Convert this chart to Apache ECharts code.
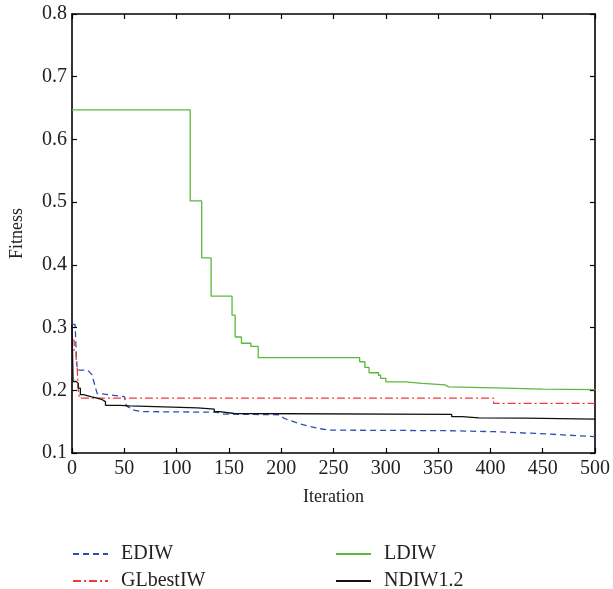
<!DOCTYPE html>
<html>
<head>
<meta charset="utf-8">
<script src="https://cdn.jsdelivr.net/npm/echarts@6/dist/echarts.min.js"></script>
<style>
html,body{margin:0;padding:0;background:#fff;}
#chart{width:613px;height:589px;}
</style>
</head>
<body>
<div id="chart"></div>
<script>
var xTicks = {min: 0, max: 500, interval: 50};
var yTicks = {min: 0.1, max: 0.8, interval: 0.1};
var seriesNames = ['EDIW', 'GLbestIW', 'LDIW', 'NDIW1.2'];

var ediw = [[0,0.305],[3,0.305],[4,0.26],[5,0.232],[15,0.232],[19,0.225],[24,0.195],[40,0.192],[50,0.19],[52,0.175],[60,0.168],[68,0.166],[138,0.165],[145,0.162],[198,0.161],[203,0.155],[208,0.152],[217,0.147],[226,0.143],[236,0.139],[246,0.1365],[312,0.136],[360,0.1355],[404,0.134],[446,0.131],[474,0.1285],[500,0.126]];

var glbestiw = [[0,0.28],[2,0.26],[4,0.245],[5,0.235],[6,0.2],[7,0.1875],[403,0.179],[500,0.179]];

var ldiw = [[0,0.647],[113,0.502],[124,0.411],[133,0.350],[153,0.320],[156,0.285],[162,0.275],[171,0.270],[178,0.252],[275,0.2455],[280,0.2365],[284,0.228],[293,0.224],[295,0.219],[300,0.2135],[319,0.211],[335,0.2085],[357,0.2055],[360,0.204],[404,0.202],[450,0.201],[500,0.1998]];

var ndiw = [[0,0.305],[1,0.214],[4,0.211],[6,0.2035],[8,0.193],[11,0.19],[18,0.1875],[24,0.185],[29,0.182],[32,0.176],[46,0.175],[55,0.172],[120,0.170],[136,0.166],[141,0.163],[155,0.1615],[363,0.158],[373,0.156],[389,0.1555],[433,0.154],[500,0.154]];

var FONT = 'Liberation Serif';
var chart = echarts.init(document.getElementById('chart'), null, {renderer: 'canvas'});

function axisCommon(extra) {
  var base = {
    type: 'value',
    axisLine: {show: true, onZero: false, lineStyle: {color: '#000', width: 1.6}},
    axisTick: {show: true, inside: true, length: 5, lineStyle: {color: '#000', width: 1.2}},
    splitLine: {show: false},
    axisLabel: {show: false}
  };
  for (var k in extra) base[k] = extra[k];
  return base;
}

function legendItem(name, left, top) {
  return {
    data: [name],
    orient: 'horizontal', left: left, top: top,
    itemWidth: 35, itemHeight: 14, itemGap: 0, padding: 0,
    itemStyle: {opacity: 0},
    textStyle: {fontFamily: FONT, fontSize: 20, color: '#222', padding: [0, 0, 0, 8]}
  };
}

var option = {
  backgroundColor: '#fff',
  animation: false,
  grid: {left: 72, right: 16, top: 14, bottom: 136, containLabel: false},
  xAxis: [
    axisCommon({min: xTicks.min, max: xTicks.max, interval: xTicks.interval, position: 'bottom',
      name: 'Iteration', nameLocation: 'middle', nameGap: 35,
      nameTextStyle: {fontFamily: FONT, fontSize: 18, color: '#222'},
      axisLabel: {show: true, margin: 6, fontFamily: FONT, fontSize: 20, color: '#222'}}),
    axisCommon({min: xTicks.min, max: xTicks.max, interval: xTicks.interval, position: 'top'})
  ],
  yAxis: [
    axisCommon({min: yTicks.min, max: yTicks.max, interval: yTicks.interval, position: 'left',
      name: 'Fitness', nameLocation: 'middle', nameGap: 46,
      nameTextStyle: {fontFamily: FONT, fontSize: 18, color: '#222'},
      axisLabel: {show: true, margin: 5, fontFamily: FONT, fontSize: 20, color: '#222',
        formatter: function (v) { return v.toFixed(1); }}}),
    axisCommon({min: yTicks.min, max: yTicks.max, interval: yTicks.interval, position: 'right'})
  ],
  legend: [
    legendItem(seriesNames[0], 72, 544),
    legendItem(seriesNames[1], 72, 571),
    legendItem(seriesNames[2], 335, 544),
    legendItem(seriesNames[3], 335, 571)
  ],
  series: [
    {name: seriesNames[0], type: 'line', data: ediw, symbol: 'none', step: false,
      itemStyle: {color: '#2b4eb5'},
      lineStyle: {color: '#2b4eb5', width: 1.3, type: [6, 4]}},
    {name: seriesNames[1], type: 'line', data: glbestiw, symbol: 'none', step: 'end',
      itemStyle: {color: '#ee3a3a'},
      lineStyle: {color: '#ee3a3a', width: 1.3, type: [8, 3, 2, 3]}},
    {name: seriesNames[2], type: 'line', data: ldiw, symbol: 'none', step: 'end',
      itemStyle: {color: '#5cb83c'},
      lineStyle: {color: '#5cb83c', width: 1.3}},
    {name: seriesNames[3], type: 'line', data: ndiw, symbol: 'none', step: 'end',
      itemStyle: {color: '#111'},
      lineStyle: {color: '#111', width: 1.3}}
  ]
};
chart.setOption(option);
</script>
</body>
</html>
